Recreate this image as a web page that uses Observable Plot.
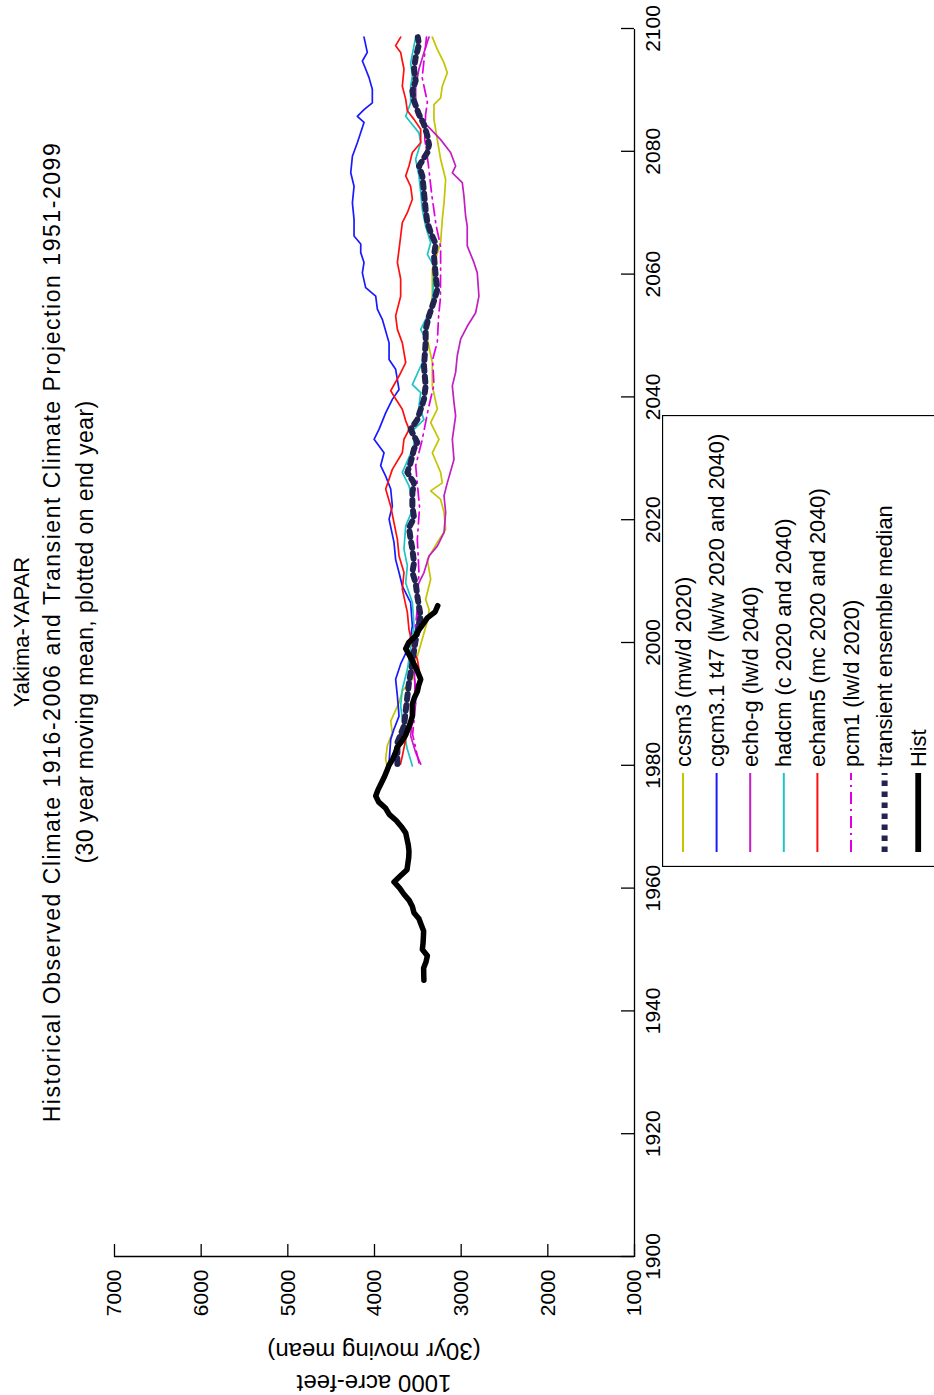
<!DOCTYPE html>
<html>
<head>
<meta charset="utf-8">
<script src="https://cdn.jsdelivr.net/npm/d3@7"></script>
<script src="https://cdn.jsdelivr.net/npm/@observablehq/plot@0.6"></script>
<style>
  html, body { margin: 0; padding: 0; background: #fff; overflow: hidden; width: 934px; height: 1395px; }
  #wrap { position: absolute; left: 0; top: 0; width: 1395px; height: 934px; transform-origin: 0 0;
          transform: translate(0px, 1395px) rotate(-90deg); background: #fff;
          font-family: "Liberation Sans", Arial, sans-serif; color: #000; }
  #wrap svg.plot { position: absolute; left: 0; top: 0; }
  .tl { position: absolute; left: 63px; width: 1400px; text-align: center; font-size: 23px; line-height: 30px; white-space: nowrap; }
  #legend { position: absolute; left: 528px; top: 662px; }
</style>
</head>
<body>
<div id="wrap">
  <div class="tl" style="top:7px;font-size:22px">Yakima-YAPAR</div>
  <div class="tl" style="top:37px;letter-spacing:1.55px">Historical Observed Climate 1916-2006 and Transient Climate Projection 1951-2099</div>
  <div class="tl" style="top:70px;letter-spacing:0.4px">(30 year moving mean, plotted on end year)</div>
</div>
<script>
// ---- data (year, 1000 acre-feet, 30-yr moving mean) ----
const xTicks = [1900, 1920, 1940, 1960, 1980, 2000, 2020, 2040, 2060, 2080, 2100];
const yTicks = [1000, 2000, 3000, 4000, 5000, 6000, 7000];
const yLabelLines = ["1000 acre-feet", "(30yr moving mean)"];

const hist = [[1945,3430],[1946,3432],[1947,3433],[1948,3405],[1949,3390],[1950,3448],[1951,3440],[1952,3436],[1953,3433],[1954,3460],[1955,3487],[1956,3545],[1957,3563],[1958,3600],[1959,3660],[1960,3710],[1961,3775],[1962,3700],[1963,3625],[1964,3615],[1965,3605],[1966,3602],[1967,3610],[1968,3625],[1969,3640],[1970,3690],[1971,3750],[1972,3830],[1973,3871],[1974,3950],[1975,3986],[1976,3960],[1977,3925],[1978,3890],[1979,3860],[1980,3833],[1981,3790],[1982,3760],[1983,3736],[1984,3680],[1985,3640],[1986,3610],[1987,3585],[1988,3563],[1989,3563],[1990,3563],[1991,3540],[1992,3506],[1993,3490],[1994,3467],[1995,3495],[1996,3525],[1997,3565],[1998,3600],[1999,3640],[2000,3605],[2001,3530],[2002,3490],[2003,3440],[2004,3390],[2005,3300],[2006,3270]];

const ccsm3 = [[1980.2,3860],[1981,3871],[1983.2,3852],[1985.3,3794],[1987.2,3813],[1990.2,3717],[1992.1,3679],[1994.3,3544],[1996,3560],[1998,3500],[2000,3460],[2002,3420],[2004,3380],[2005.4,3371],[2007,3410],[2010.3,3352],[2013.5,3390],[2016.3,3275],[2018.4,3179],[2021.2,3198],[2023.3,3237],[2024.7,3352],[2026,3218],[2027.7,3237],[2030.9,3333],[2033.1,3256],[2035.8,3352],[2038,3275],[2041.8,3333],[2045.6,3333],[2049.4,3390],[2051,3390],[2056.4,3333],[2060.8,3333],[2065.1,3237],[2068.9,3218],[2071.6,3198],[2075.4,3179],[2078.7,3237],[2081.9,3275],[2085.2,3314],[2087.6,3314],[2088.7,3237],[2090.6,3218],[2092.8,3160],[2094.4,3198],[2096.6,3275],[2098.6,3333]];

const cgcm31 = [[1980.4,3832],[1984.2,3813],[1985.9,3775],[1988,3717],[1991.3,3736],[1994,3756],[1996.5,3698],[1999.4,3600],[2002.7,3563],[2006.5,3583],[2009.2,3679],[2011.4,3717],[2013.5,3756],[2016.3,3775],[2020.1,3832],[2022.2,3794],[2025,3813],[2027.1,3871],[2028.8,3929],[2030.9,3890],[2033.1,4005],[2034.7,3948],[2037.4,3871],[2039.6,3794],[2041.2,3717],[2044.5,3756],[2046.1,3832],[2048.8,3832],[2052.6,3909],[2054.3,3967],[2056.4,3986],[2057.8,4102],[2060.2,4140],[2061.9,4121],[2063.5,4159],[2064.9,4159],[2066.2,4236],[2068.9,4236],[2071.6,4255],[2074.3,4236],[2076.5,4274],[2079.2,4255],[2081.4,4198],[2084.7,4121],[2085.7,4198],[2086.8,4121],[2087.9,4025],[2090.1,4025],[2092,4063],[2093.4,4102],[2094.7,4140],[2096.1,4083],[2098.6,4121]];

const echoG = [[1980.2,3467],[1982.1,3525],[1984.8,3583],[1987.5,3563],[1990.2,3525],[1996.7,3544],[2003.8,3506],[2007,3487],[2009.2,3506],[2011.4,3429],[2014.1,3371],[2015.7,3275],[2017.9,3198],[2021.2,3179],[2023.9,3198],[2026,3160],[2029.8,3083],[2033.1,3102],[2036.9,3064],[2039.1,3083],[2041.8,3102],[2044,3064],[2046.7,3045],[2049.4,3006],[2051.5,2930],[2053.7,2833],[2056.4,2795],[2060.2,2814],[2061.9,2853],[2064.6,2930],[2067.8,2930],[2069.5,2949],[2072.7,2968],[2074.9,2987],[2076.5,3102],[2077.6,3064],[2079.8,3122],[2081.9,3237],[2083.6,3352],[2085.2,3467],[2087.9,3525],[2090.6,3525],[2093.4,3487],[2096.1,3429],[2098.6,3371]];

const hadcm = [[1979.9,3563],[1982.6,3621],[1985.3,3660],[1989.7,3698],[1992.4,3679],[1995.6,3621],[2002.7,3544],[2006.5,3563],[2009.7,3640],[2012.5,3621],[2015.2,3660],[2019,3640],[2022.2,3544],[2025.5,3602],[2027.7,3679],[2032,3544],[2034.7,3544],[2036.3,3429],[2038.5,3487],[2040.7,3467],[2042,3563],[2045.6,3448],[2049.4,3410],[2051,3467],[2054.8,3333],[2058.6,3320],[2061.3,3314],[2063.2,3390],[2065.1,3352],[2067.8,3410],[2070.5,3448],[2073.3,3467],[2076,3487],[2078.7,3525],[2081.4,3467],[2083,3487],[2084.7,3583],[2085.7,3640],[2087.9,3583],[2090.6,3583],[2092.3,3563],[2094.4,3583],[2097.2,3544],[2098.6,3525]];

const echam5 = [[1980.2,3700],[1981.5,3679],[1984.2,3640],[1986.9,3563],[1992.9,3525],[1994,3467],[1997.3,3506],[1998.3,3544],[2002.1,3602],[2004.9,3621],[2008.7,3679],[2011.4,3660],[2014.1,3717],[2016.8,3736],[2019.5,3775],[2022.2,3813],[2025,3871],[2028.2,3794],[2030.9,3679],[2033.1,3660],[2034.7,3600],[2036.1,3640],[2038,3679],[2040.1,3775],[2041,3813],[2043.4,3717],[2045.6,3640],[2048.8,3679],[2051,3736],[2053.2,3756],[2056.4,3698],[2059.2,3698],[2061.9,3736],[2064,3717],[2066.2,3698],[2068.4,3679],[2070,3621],[2072.2,3563],[2074.3,3583],[2076,3640],[2077.6,3602],[2079.8,3563],[2081.4,3467],[2083.6,3467],[2085.2,3544],[2086.6,3621],[2088.5,3640],[2090.6,3679],[2093.4,3660],[2094.7,3679],[2096.1,3698],[2097.2,3756],[2098.6,3698]];

const pcm1 = [[1980.4,3487],[1985,3560],[1990.2,3525],[1995,3540],[2000,3545],[2005,3510],[2011.4,3487],[2016.8,3506],[2022,3480],[2028.8,3525],[2033,3450],[2038,3380],[2042,3314],[2046,3330],[2049,3275],[2053.2,3260],[2056,3240],[2061,3237],[2064.5,3237],[2068,3290],[2073,3340],[2078,3380],[2082,3420],[2086,3410],[2088,3390],[2092,3450],[2096,3420],[2098.6,3400]];

const median = [[1980.2,3736],[1983.7,3736],[1986.4,3660],[1993.5,3602],[1997,3560],[2000,3530],[2004.3,3467],[2005.9,3487],[2007.6,3506],[2009.7,3525],[2011.4,3563],[2013,3544],[2015.2,3563],[2016.8,3583],[2018.7,3602],[2020.3,3544],[2022.2,3563],[2024.4,3563],[2026,3544],[2027.7,3621],[2029.3,3583],[2031.5,3544],[2032.6,3506],[2034.7,3583],[2036.3,3506],[2039.6,3429],[2041.8,3410],[2045,3429],[2048.8,3410],[2051,3410],[2053.2,3371],[2055.6,3314],[2057.5,3275],[2059.7,3294],[2063,3314],[2064.9,3294],[2066.8,3352],[2068.4,3390],[2070.5,3410],[2073.3,3429],[2076,3448],[2077.6,3487],[2079.8,3390],[2081.1,3371],[2082.5,3390],[2084.4,3429],[2086,3487],[2088.2,3544],[2089.8,3563],[2091.5,3525],[2093.4,3544],[2095.3,3525],[2097.4,3487],[2098.6,3500]];

const seriesNames = ["ccsm3 (mw/d 2020)", "cgcm3.1 t47 (lw/w 2020 and 2040)", "echo-g (lw/d 2040)", "hadcm (c 2020 and 2040)", "echam5 (mc 2020 and 2040)", "pcm1 (lw/d 2020)", "transient ensemble median", "Hist"];
const seriesData = [ccsm3, cgcm31, echoG, hadcm, echam5, pcm1, median, hist];

// ---- styles ----
const styles = [
  {stroke: "#c4c400", strokeWidth: 1.7},
  {stroke: "#1a1aff", strokeWidth: 1.7},
  {stroke: "#c21ec2", strokeWidth: 1.7},
  {stroke: "#1ec4c4", strokeWidth: 1.7},
  {stroke: "#ff1010", strokeWidth: 1.7},
  {stroke: "#e000e0", strokeWidth: 1.7, strokeDasharray: "12 5 2 5"},
  {stroke: "#232352", strokeWidth: 6, strokeDasharray: "5.5 5.5"},
  {stroke: "#000000", strokeWidth: 5.5, strokeLinejoin: "round"}
];

const FONT = "'Liberation Sans', Arial, sans-serif";
const W = 1395, H = 700, ML = 138, MR = 29, MT = 114, MB = 66;
const frameH = H - MT - MB, frameW = W - ML - MR;

const chart = Plot.plot({
  width: W, height: H,
  marginLeft: ML, marginRight: MR, marginTop: MT, marginBottom: MB,
  style: {fontFamily: FONT, fontSize: "21px", color: "#000", background: "transparent", overflow: "visible"},
  x: {domain: [1900, 2100]},
  y: {domain: [1000, 7000]},
  marks: [
    ...seriesData.map((d, i) => Plot.line(d, {x: p => p[0], y: p => p[1], ...styles[i]})),
    Plot.ruleY([1000], {stroke: "#000", strokeWidth: 1.3}),
    Plot.ruleX([1900], {stroke: "#000", strokeWidth: 1.3}),
    Plot.tickX(xTicks, {x: d => d, insetTop: frameH - 13, stroke: "#000", strokeWidth: 1.3}),
    Plot.tickY(yTicks, {y: d => d, insetRight: frameW - 13, stroke: "#000", strokeWidth: 1.3}),
    Plot.axisX(xTicks, {tickSize: 0, tickPadding: 11, tickFormat: d => String(d), label: null, fontSize: 21}),
    Plot.axisY(yTicks, {tickSize: 0, tickPadding: 13, tickFormat: d => String(d), label: null, fontSize: 21})
  ]
});
chart.classList.add("plot");
document.getElementById("wrap").appendChild(chart);

// y-axis label, two rotated lines left of the axis
const ylab = d3.select(chart).append("g")
  .attr("font-family", FONT).attr("font-size", 24).attr("text-anchor", "middle");
[[yLabelLines[0], 12], [yLabelLines[1], 44]].forEach(([s, xx]) => {
  ylab.append("text")
    .attr("transform", `translate(${xx},${MT + frameH / 2}) rotate(-90)`)
    .attr("dy", "0.35em").text(s);
});

// ---- legend (below the axes, clipped by the figure edge) ----
const LW = 452, LH = 934 - 662;
const legend = d3.create("svg").attr("id", "legend").attr("width", LW).attr("height", LH)
  .style("font-family", FONT).style("font-size", "21.8px");
legend.append("rect").attr("x", 0.5).attr("y", 0.5).attr("width", LW - 1).attr("height", LH + 40)
  .attr("fill", "#fff").attr("stroke", "#000").attr("stroke-width", 1.3);
seriesNames.forEach((name, i) => {
  const y = 21 + i * 33.6;
  const st = styles[i];
  legend.append("line").attr("x1", 15).attr("x2", 94).attr("y1", y).attr("y2", y)
    .attr("stroke", st.stroke).attr("stroke-width", Math.min(st.strokeWidth + 0.3, 6))
    .attr("stroke-dasharray", st.strokeDasharray || null);
  legend.append("text").attr("x", 100).attr("y", y).attr("dy", "0.35em").text(name);
});
document.getElementById("wrap").appendChild(legend.node());
</script>
</body>
</html>
